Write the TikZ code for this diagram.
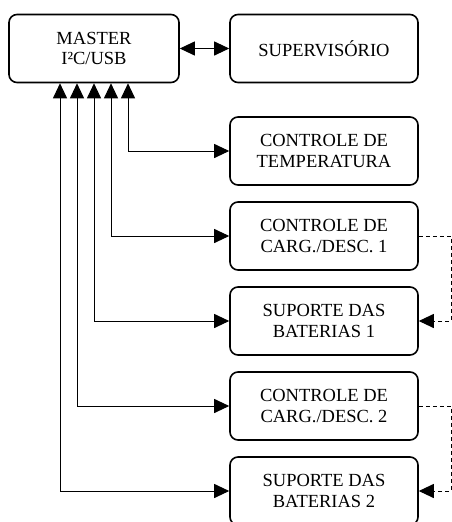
\documentclass[tikz,border=0pt]{standalone}
\usepackage{fontspec}
\setmainfont{Liberation Serif}
\usetikzlibrary{arrows.meta}
\begin{document}
\begin{tikzpicture}[x=1pt,y=-1pt,
  blk/.style={draw,line width=1.6pt,rounded corners=8pt,minimum width=188pt,minimum height=68pt,
    align=center,inner sep=0pt,font=\fontsize{18.5}{20.5}\selectfont},
  con/.style={line width=1pt,-{Triangle[length=15pt,width=14pt]}},
  dcon/.style={con,dash pattern=on 4pt off 3pt}]
\useasboundingbox (0,0) rectangle (452,522);
\node[blk,minimum width=170pt] (m) at (94,48.5) {MASTER\\I²C/USB};
\node[blk] (sup) at (324,48.5) {SUPERVISÓRIO};
\node[blk] (tmp) at (324,151) {CONTROLE DE\\TEMPERATURA};
\node[blk] (c1) at (324,236) {CONTROLE DE\\CARG./DESC. 1};
\node[blk] (b1) at (324,321) {SUPORTE DAS\\BATERIAS 1};
\node[blk] (c2) at (324,406) {CONTROLE DE\\CARG./DESC. 2};
\node[blk] (b2) at (324,491) {SUPORTE DAS\\BATERIAS 2};
\draw[con,{Triangle[length=15pt,width=14pt]}-{Triangle[length=15pt,width=14pt]}] (m) -- (sup);
\draw[con,<->,>={Triangle[length=15pt,width=14pt]}] (m.south -| 128,0) |- (tmp.west);
\draw[con,<->,>={Triangle[length=15pt,width=14pt]}] (m.south -| 111,0) |- (c1.west);
\draw[con,<->,>={Triangle[length=15pt,width=14pt]}] (m.south -| 94,0) |- (b1.west);
\draw[con,<->,>={Triangle[length=15pt,width=14pt]}] (m.south -| 77,0) |- (c2.west);
\draw[con,<->,>={Triangle[length=15pt,width=14pt]}] (m.south -| 60,0) |- (b2.west);
\coordinate (d1) at (451,0);
\draw[dcon] (c1.east) -- (c1.east -| d1) |- (b1.east);
\draw[dcon] (c2.east) -- (c2.east -| d1) |- (b2.east);
\end{tikzpicture}
\end{document}
